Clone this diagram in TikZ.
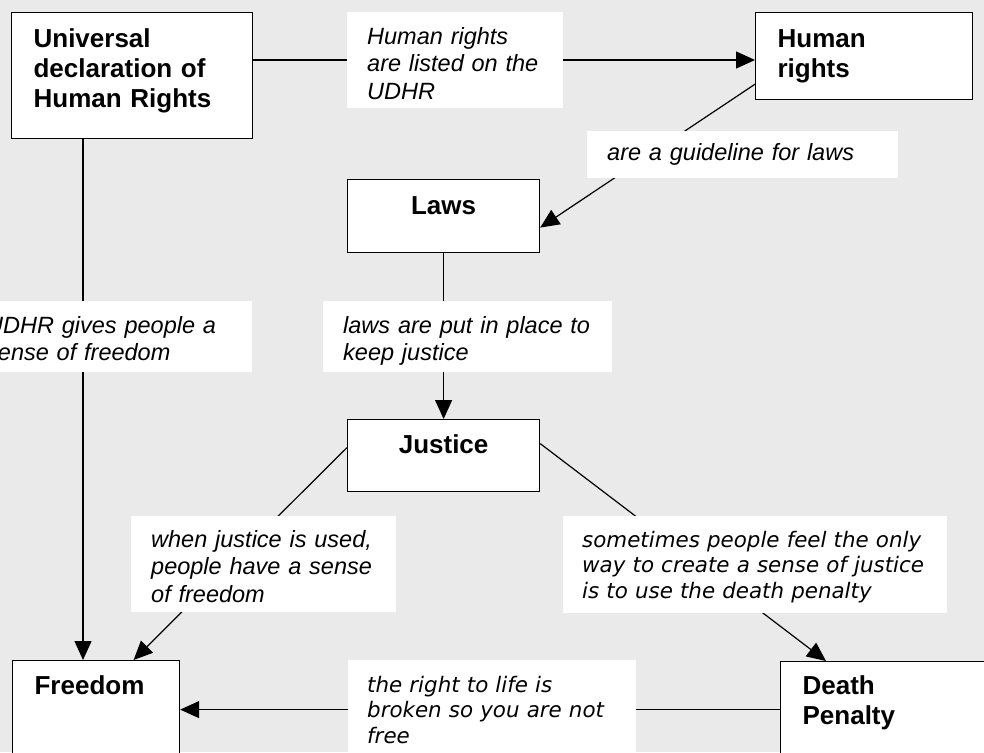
\documentclass[tikz,border=0pt]{standalone}
\usepackage{fontspec}
\setmainfont{Liberation Sans}
\newfontfamily\verdanalike{DejaVu Sans}
\usepackage{xcolor}
\usetikzlibrary{arrows.meta}
\definecolor{fondo}{HTML}{EAEAEA}

\begin{document}
\begin{tikzpicture}[x=1pt, y=-1pt,
    concept/.style={draw, line width=1.2pt, fill=white, anchor=north west, inner xsep=22pt, inner ysep=0pt, align=left, font=\fontsize{26}{30}\selectfont\bfseries},
    note/.style={fill=white, anchor=north west, inner xsep=20pt, inner ysep=0pt, align=left, font=\fontsize{23.5}{27.5}\selectfont\itshape},
    vnote/.style={note, inner xsep=19pt, font=\verdanalike\fontsize{21.4}{25.5}\selectfont\itshape},
    link/.style={line width=1.2pt, -{Triangle[length=19pt, width=17pt]}}]

% Fondo
\fill[fondo] (0,0) rectangle (984,752);
\useasboundingbox (0,0) rectangle (984,752);

% Conceptos
\node[concept, text width=197pt, text height=35pt, text depth=91pt] (udhr) at (11,12) {Universal\\ declaration of\\ Human Rights};
\node[concept, text width=173pt, text height=35pt, text depth=52pt] (hr) at (755,12) {Human\\ rights};
\node[concept, align=center, text width=148pt, text height=35pt, text depth=38pt] (laws) at (347,179) {Laws};
\node[concept, align=center, text width=148pt, text height=34pt, text depth=38pt] (justice) at (347,419) {Justice};
\node[concept, text width=123pt, text height=34pt, text depth=64pt] (freedom) at (12,660) {Freedom};
\node[concept, text width=176pt, text height=33pt, text depth=63pt] (death) at (780,661) {Death\\ Penalty};

% Conectores
\coordinate (udhrout) at ([yshift=-48pt]udhr.north east);
\draw[link] (udhrout) -- (udhrout -| hr.west);
\draw[link] ([yshift=16pt]hr.south west) -- ([yshift=-11.5pt]laws.east);
\draw[link] (laws.south) -- (justice.north);
\coordinate (udhrdown) at ([xshift=72pt]udhr.south west);
\draw[link] (udhrdown) -- (udhrdown |- freedom.north);
\draw[link] ([yshift=8pt]justice.west) -- ([xshift=37.5pt]freedom.north);
\draw[link] ([yshift=12pt]justice.east) -- ([xshift=46pt]death.north west);
\draw[link] (death.west) -- (death.west -| freedom.east);

% Etiquetas
\node[note, text width=176pt, text height=32pt, text depth=64pt] (listed) at (347,12) {Human rights\\ are listed on the\\ UDHR};
\node[note, text width=271pt, text height=29pt, text depth=18pt] (guide) at (587,131) {are a guideline for laws};
\node[note, text width=246pt, text height=32pt, text depth=39pt] (gives) at (-34,301) {UDHR gives people a\\ sense of freedom};
\node[note, text width=249pt, text height=32pt, text depth=39pt] (keep) at (323,301) {laws are put in place to\\ keep justice};
\node[note, text width=225pt, text height=31pt, text depth=65pt] (used) at (131,516) {when justice is used,\\ people have a sense\\ of freedom};
\node[vnote, text width=346pt, text height=31pt, text depth=66pt] (only) at (563,516) {sometimes people feel the only\\ way to create a sense of justice\\ is to use the death penalty};
\node[vnote, text width=250pt, text height=32pt, text depth=98pt] (broken) at (348,660) {the right to life is\\ broken so you are not\\ free};
\end{tikzpicture}
\end{document}
